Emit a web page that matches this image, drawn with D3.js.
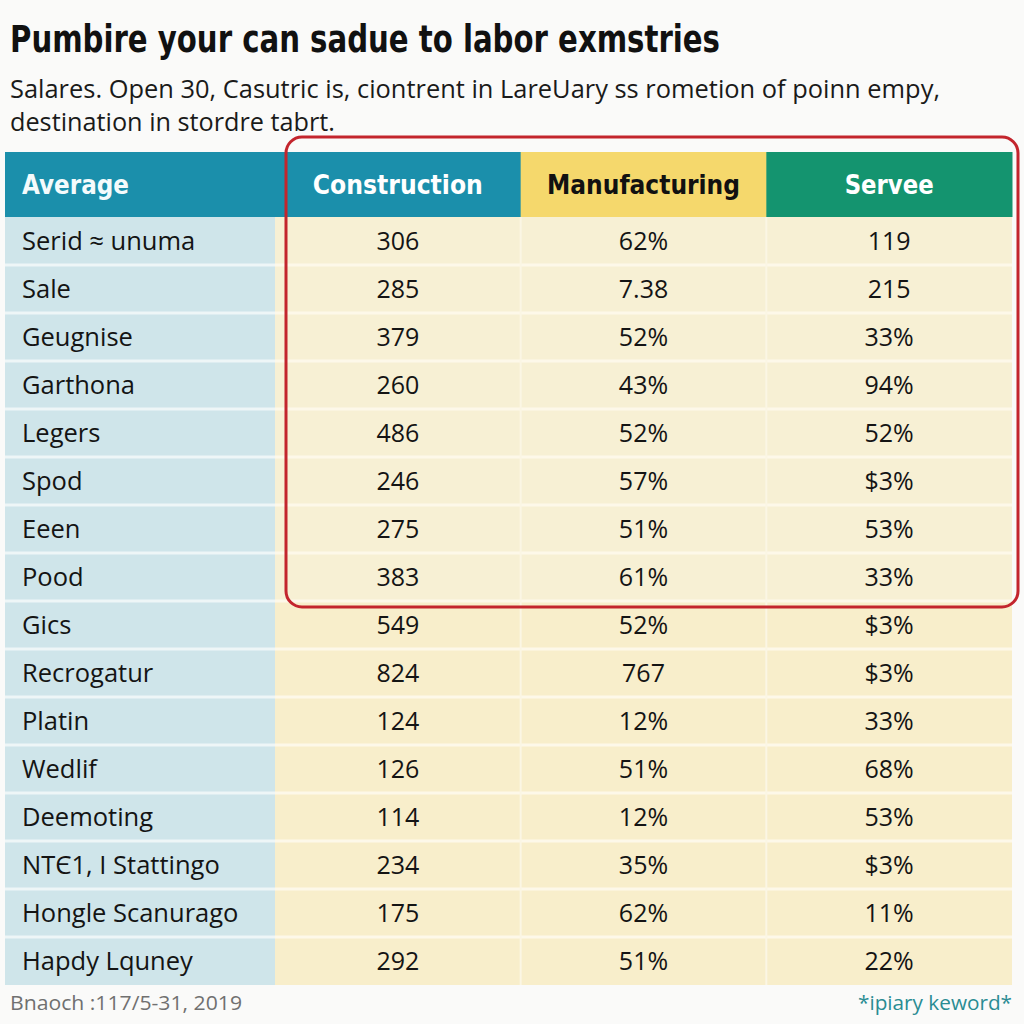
<!DOCTYPE html>
<html><head><meta charset="utf-8">
<script src="https://cdn.jsdelivr.net/npm/d3@7"></script>
<style>html,body{margin:0;padding:0;background:#fafaf9;}</style>
</head><body>
<script>
const title = "Pumbire your can sadue to labor exmstries";
const subtitleLines = ["Salares. Open 30, Casutric is, ciontrent in LareUary ss rometion of poinn empy,", "destination in stordre tabrt."];
const headerLabel = "Average";
const seriesNames = ["Construction", "Manufacturing", "Servee"];
const rowLabels = ["Serid \u2248 unuma","Sale","Geugnise","Garthona","Legers","Spod","Eeen","Pood","Gics","Recrogatur","Platin","Wedlif","Deemoting","NT\u04041, I Stattingo","Hongle Scanurago","Hapdy Lquney"];
const construction = ["306","285","379","260","486","246","275","383","549","824","124","126","114","234","175","292"];
const manufacturing = ["62%","7.38","52%","43%","52%","57%","51%","61%","52%","767","12%","51%","12%","35%","62%","51%"];
const servee = ["119","215","33%","94%","52%","$3%","53%","33%","$3%","$3%","33%","68%","53%","$3%","11%","22%"];
const highlightedRows = 8;
const sourceNote = "Bnaoch :117/5-31, 2019";
const keywordNote = "*ipiary keword*";

const W = 1024, H = 1024;
const svg = d3.select("body").append("svg").attr("width", W).attr("height", H);
svg.append("rect").attr("width", W).attr("height", H).attr("fill", "#fafaf9");

const seriesValues = [construction, manufacturing, servee];
const headerColors = ["#1b8fab", "#f5d86c", "#14946f"];
const headerText = ["#ffffff", "#111111", "#ffffff"];

const tableLeft = 5, labelRight = 275, tableRight = 1012;
const headTop = 152, headBottom = 217, bodyBottom = 985;

const x = d3.scaleBand().domain(seriesNames).range([labelRight, tableRight]);
const y = d3.scaleBand().domain(rowLabels).range([headBottom, bodyBottom]);

// title
svg.append("text").attr("x", 10).attr("y", 52).text(title)
  .attr("font-family", "'DejaVu Sans Condensed', 'DejaVu Sans', sans-serif")
  .attr("font-weight", "bold").attr("font-size", 37).attr("fill", "#111")
  .attr("textLength", 710).attr("lengthAdjust", "spacingAndGlyphs");

svg.selectAll("text.sub").data(subtitleLines).join("text").attr("class", "sub")
  .attr("x", 10).attr("y", (d, i) => 98 + i * 33).text(d => d)
  .attr("font-family", "'Open Sans', sans-serif").attr("font-size", 25).attr("fill", "#1a1a1a")
  .attr("textLength", (d, i) => i === 0 ? 930 : 325).attr("lengthAdjust", "spacingAndGlyphs");

// header
svg.append("rect").attr("x", tableLeft).attr("y", headTop).attr("width", labelRight - tableLeft + 1)
  .attr("height", headBottom - headTop).attr("fill", headerColors[0]);
svg.selectAll("rect.hd").data(seriesNames).join("rect").attr("class", "hd")
  .attr("x", d => x(d)).attr("y", headTop).attr("width", x.bandwidth() + 0.5)
  .attr("height", headBottom - headTop).attr("fill", (d, i) => headerColors[i]);

const hfont = "'DejaVu Sans Condensed', 'DejaVu Sans', sans-serif";
svg.append("text").attr("x", 22).attr("y", (headTop + headBottom) / 2).attr("dy", "0.35em")
  .text(headerLabel).attr("font-family", hfont).attr("font-weight", "bold").attr("font-size", 26)
  .attr("fill", "#f4fbfc").attr("textLength", 107).attr("lengthAdjust", "spacingAndGlyphs");
svg.selectAll("text.hd").data(seriesNames).join("text").attr("class", "hd")
  .attr("x", d => x(d) + x.bandwidth() / 2).attr("y", (headTop + headBottom) / 2).attr("dy", "0.35em")
  .attr("text-anchor", "middle").text(d => d)
  .attr("font-family", hfont).attr("font-weight", "bold").attr("font-size", 26)
  .attr("fill", (d, i) => headerText[i])
  .attr("textLength", (d, i) => [170, 193, 89][i]).attr("lengthAdjust", "spacingAndGlyphs");

// body backgrounds
const rows = svg.append("g");
rows.selectAll("rect.lab").data(rowLabels).join("rect").attr("class", "lab")
  .attr("x", tableLeft).attr("y", d => y(d)).attr("width", labelRight - tableLeft)
  .attr("height", y.bandwidth()).attr("fill", "#cfe5ea");
rows.selectAll("rect.val").data(rowLabels).join("rect").attr("class", "val")
  .attr("x", labelRight).attr("y", d => y(d)).attr("width", tableRight - labelRight)
  .attr("height", y.bandwidth()).attr("fill", (d, i) => i < highlightedRows ? "#f7f0d4" : "#f8eecb");

// separators
rows.selectAll("line.rs").data(rowLabels.slice(1)).join("line").attr("class", "rs")
  .attr("x1", tableLeft).attr("x2", labelRight).attr("y1", d => y(d)).attr("y2", d => y(d))
  .attr("stroke", "#eef6f7").attr("stroke-width", 3);
rows.selectAll("line.rs2").data(rowLabels.slice(1)).join("line").attr("class", "rs2")
  .attr("x1", labelRight).attr("x2", tableRight).attr("y1", d => y(d)).attr("y2", d => y(d))
  .attr("stroke", "#fdf8e9").attr("stroke-width", 3);
rows.selectAll("line.cs").data(seriesNames.slice(1)).join("line").attr("class", "cs")
  .attr("x1", d => x(d)).attr("x2", d => x(d)).attr("y1", headBottom).attr("y2", bodyBottom)
  .attr("stroke", "#fbf6e4").attr("stroke-width", 2);

// labels
rows.selectAll("text.lab").data(rowLabels).join("text").attr("class", "lab")
  .attr("x", 22).attr("y", d => y(d) + y.bandwidth() / 2).attr("dy", "0.36em").text(d => d)
  .attr("font-family", "'Open Sans', sans-serif").attr("font-size", 25.5).attr("fill", "#141414");

// values
seriesNames.forEach((s, si) => {
  rows.selectAll("text.v" + si).data(seriesValues[si]).join("text").attr("class", "v" + si)
    .attr("x", x(s) + x.bandwidth() / 2).attr("y", (d, i) => y(rowLabels[i]) + y.bandwidth() / 2)
    .attr("dy", "0.36em").attr("text-anchor", "middle").text(d => d)
    .attr("font-family", "'Open Sans', sans-serif").attr("font-size", 25).attr("fill", "#141414");
});

// highlight box
const boxTop = 137, boxBottom = y(rowLabels[highlightedRows - 1]) + y.bandwidth() + 6;
svg.append("rect").attr("x", 286).attr("y", boxTop).attr("width", 1018 - 286)
  .attr("height", boxBottom - boxTop).attr("rx", 16).attr("ry", 16)
  .attr("fill", "none").attr("stroke", "#c3252d").attr("stroke-width", 3);

// footer
svg.append("text").attr("x", 10).attr("y", 1010).text(sourceNote)
  .attr("font-family", "'Open Sans', sans-serif").attr("font-size", 20).attr("fill", "#707070")
  .attr("textLength", 232).attr("lengthAdjust", "spacingAndGlyphs");
svg.append("text").attr("x", 1012).attr("y", 1010).attr("text-anchor", "end").text(keywordNote)
  .attr("font-family", "'Open Sans', sans-serif").attr("font-size", 20).attr("fill", "#2a8c93")
  .attr("textLength", 154).attr("lengthAdjust", "spacingAndGlyphs");
</script>
</body></html>
